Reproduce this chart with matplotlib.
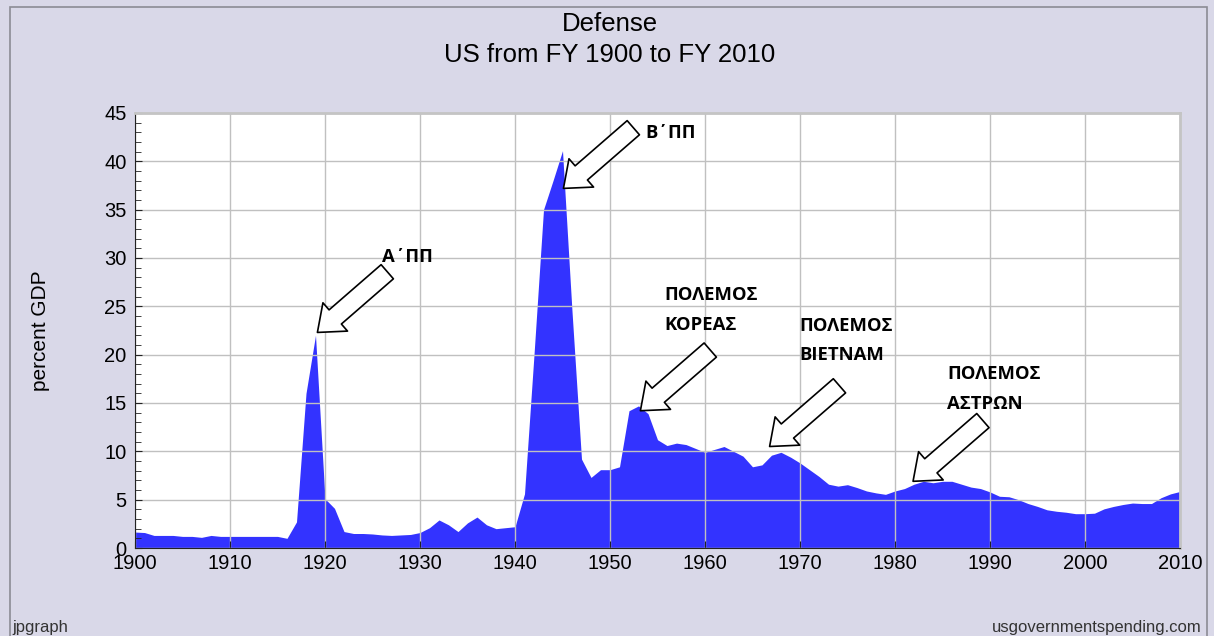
import matplotlib.pyplot as plt
from matplotlib.patches import Rectangle, ArrowStyle
from matplotlib.ticker import MultipleLocator

# defense spending, percent of GDP (FY 1900 - FY 2010)
years = list(range(1900, 2011))
defense_pct_gdp = [
    1.65, 1.6, 1.3, 1.3, 1.3, 1.2, 1.2, 1.1, 1.3, 1.2,          # 1900s
    1.2, 1.2, 1.2, 1.2, 1.2, 1.2, 1.0, 2.7, 16.0, 22.0,         # 1910s
    5.1, 4.1, 1.7, 1.5, 1.5, 1.45, 1.35, 1.3, 1.35, 1.4,        # 1920s
    1.6, 2.1, 2.9, 2.4, 1.7, 2.6, 3.2, 2.4, 2.0, 2.1,           # 1930s
    2.2, 5.6, 20.0, 35.0, 38.0, 41.1, 24.5, 9.2, 7.3, 8.1,      # 1940s
    8.1, 8.4, 14.2, 14.7, 13.9, 11.2, 10.6, 10.85, 10.7, 10.3,  # 1950s
    9.9, 10.2, 10.5, 10.0, 9.5, 8.4, 8.6, 9.6, 9.9, 9.4,        # 1960s
    8.8, 8.1, 7.4, 6.6, 6.4, 6.55, 6.25, 5.9, 5.7, 5.55,        # 1970s
    5.9, 6.15, 6.6, 6.9, 6.75, 6.9, 6.9, 6.6, 6.3, 6.15,        # 1980s
    5.8, 5.35, 5.3, 5.0, 4.6, 4.3, 3.95, 3.8, 3.7, 3.55,        # 1990s
    3.55, 3.6, 4.05, 4.3, 4.5, 4.65, 4.6, 4.6, 5.2, 5.6,        # 2000s
    5.85,
]

# annotations: label, label position (year, value of last line baseline), arrow tip
labels = ["Α΄ΠΠ", "Β΄ΠΠ", "ΠΟΛΕΜΟΣ\nΚΟΡΕΑΣ", "ΠΟΛΕΜΟΣ\nΒΙΕΤΝΑΜ", "ΠΟΛΕΜΟΣ\nΑΣΤΡΩΝ"]
label_pos = [(1926.0, 29.6), (1953.7, 42.4), (1955.7, 22.6), (1969.9, 19.4), (1985.5, 14.4)]
arrow_tips = [(1919.2, 22.3), (1945.1, 37.2), (1953.2, 14.2), (1966.8, 10.5), (1981.9, 6.9)]

bg = '#d9d8e8'
fig = plt.figure(figsize=(12.14, 6.36), dpi=100, facecolor=bg)
ax = fig.add_axes([135 / 1214, 1 - 548 / 636, 1045 / 1214, 435 / 636])

# outer frame (open at the bottom, like the cropped original)
fig.patches.append(Rectangle((10 / 1214, -0.1), 1197 / 1214, 1.1 - 7 / 636,
                             transform=fig.transFigure, fill=False,
                             ec='#8c8c94', lw=1.2))

ax.fill_between(years, defense_pct_gdp, 0, color='#3333ff', lw=0, zorder=1)

ax.set_xlim(1900, 2010)
ax.set_ylim(0, 45)
ax.xaxis.set_major_locator(MultipleLocator(10))
ax.yaxis.set_major_locator(MultipleLocator(5))
ax.yaxis.set_minor_locator(MultipleLocator(1))
ax.grid(True, which='major', color='#c0c0c0', lw=1, zorder=2)
ax.set_axisbelow(False)

ax.tick_params(axis='both', which='both', direction='in', color='#222222',
               labelsize=14.5)
ax.tick_params(axis='y', which='major', length=5, pad=6)
ax.tick_params(axis='y', which='minor', length=4)
ax.tick_params(axis='x', which='major', length=5, pad=4)
for lab in ax.get_xticklabels() + ax.get_yticklabels():
    lab.set_fontfamily('Liberation Sans')

ax.spines['left'].set_color('#222222')
ax.spines['bottom'].set_color('#222222')
ax.spines['top'].set_color('#c4c4c4')
ax.spines['right'].set_color('#c4c4c4')
ax.spines['top'].set_linewidth(2)
ax.spines['right'].set_linewidth(2)
for s in ax.spines.values():
    s.set_zorder(4)

fig.text(610 / 1214, 1 - 31 / 636, "Defense", ha='center', va='baseline',
         fontsize=18.5, family='Liberation Sans')
fig.text(610 / 1214, 1 - 62 / 636, "US from FY 1900 to FY 2010", ha='center',
         va='baseline', fontsize=18.5, family='Liberation Sans')
fig.text(40 / 1214, 1 - 331 / 636, "percent GDP", rotation=90, ha='center',
         va='center', fontsize=15, family='Liberation Sans')
fig.text(12 / 1214, 1 - 632 / 636, "jpgraph", ha='left', va='baseline',
         fontsize=12, family='Liberation Sans', color='#333333')
fig.text(1202 / 1214, 1 - 632 / 636, "usgovernmentspending.com", ha='right',
         va='baseline', fontsize=12, family='Liberation Sans', color='#333333')

arrow_style = ArrowStyle.Simple(head_length=17, head_width=27, tail_width=13.5)
for text, (tx, ty), (ax_x, ax_y) in zip(labels, label_pos, arrow_tips):
    ax.text(tx, ty, text, ha='left', va='baseline', fontsize=13.3,
            fontweight='bold', family='Open Sans', linespacing=1.85, zorder=6)
    ax.annotate('', xy=(ax_x, ax_y), xytext=(50.3, 43.7),
                textcoords='offset points', zorder=6,
                arrowprops=dict(arrowstyle=arrow_style, mutation_scale=1,
                                shrinkA=0, shrinkB=0, fc='white', ec='black',
                                lw=1.2))

plt.savefig('out.png', dpi=100, facecolor=bg)
